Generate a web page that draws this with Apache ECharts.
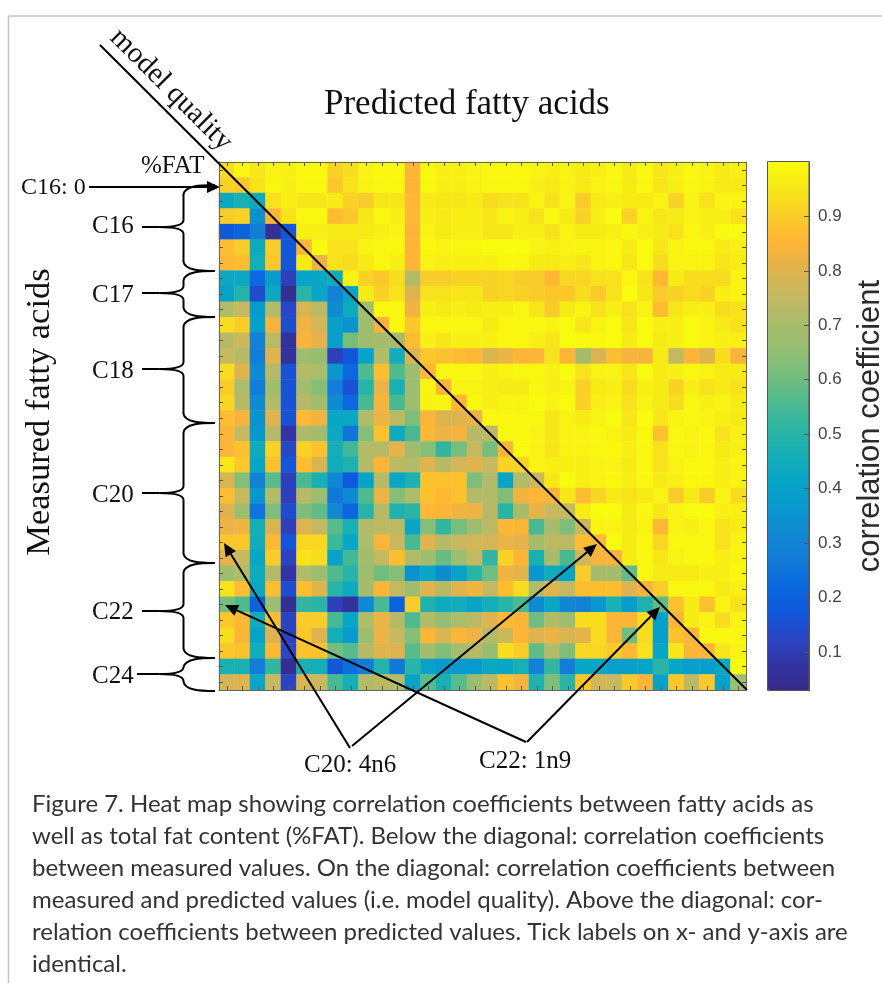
<!DOCTYPE html>
<html>
<head>
<meta charset="utf-8">
<style>html,body{margin:0;padding:0;background:#fff}#chart{width:882px;height:983px}</style>
<script src="https://cdn.jsdelivr.net/npm/echarts@6/dist/echarts.min.js"></script>
</head>
<body>
<div id="chart"></div>
<script>
// Correlation coefficients, row by row (top to bottom), 34 columns each
const r00=[.93,.99,.95,.98,.97,.99,.99,.91,.93,.98,.99,.99,.85,.99,.97,.97,.98,.99,.99,.99,.98,.97,.98,.96,.97,.99,.96,.99,.95,.97,.99,.98,.96,.97];
const r01=[.91,.89,.94,.99,.97,.99,.99,.89,.94,.98,.99,.99,.85,.99,.97,.97,.98,.99,.99,.99,.97,.96,.98,.96,.98,.99,.96,.99,.95,.97,.99,.98,.96,.96];
const r02=[.43,.47,.44,.94,.97,.95,.95,.96,.91,.90,.95,.95,.86,.96,.95,.95,.96,.93,.94,.94,.98,.94,.98,.90,.96,.97,.96,.96,.98,.91,.98,.94,.98,.98];
const r03=[.90,.91,.34,.85,.94,.99,.99,.87,.89,.95,.99,.97,.86,.97,.96,.97,.97,.95,.98,.97,.94,.99,.96,.91,.97,1,.91,.98,.95,.96,.98,.97,.97,.94];
const r04=[.18,.20,.28,.06,.17,.97,.97,.96,.96,.96,.97,.98,.85,.98,.96,.97,.97,.95,.95,.97,.97,.94,.98,.96,.96,.97,.99,.97,.96,.94,.99,.97,1,1];
const r05=[.87,.90,.44,.90,.17,.85,1,.94,.94,.98,.99,.99,.85,.99,.98,.99,.99,1,1,1,.98,.97,.98,.98,.98,.99,.96,1,.95,.98,.99,.99,.96,.97];
const r06=[.86,.87,.46,.89,.17,.96,.82,.94,.93,.96,.99,.97,.85,.98,.97,.97,.97,.97,.99,.99,.96,.96,.97,.95,.98,.99,.95,1,.93,.98,.98,.98,.95,.96];
const r07=[.43,.43,.22,.38,.11,.41,.42,.44,.98,.91,.89,.93,.73,.90,.90,.91,.91,.91,.92,.90,.90,.86,.92,.92,.94,.94,.99,.94,.86,.96,.93,.93,.93,.98];
const r08=[.40,.49,.14,.43,.05,.50,.42,.29,.41,.96,.91,.94,.80,.94,.94,.95,.95,.91,.92,.91,.90,.89,.89,.93,.90,.94,1,.95,.90,.91,.93,.91,.97,.98];
const r09=[.72,.76,.38,.72,.13,.79,.74,.33,.44,.69,.99,.99,.83,.97,.96,.97,.96,.97,.97,.99,.95,.90,.96,.98,.94,.97,.94,.98,.87,.95,.97,.97,.93,.94];
const r10=[.93,.90,.39,.84,.15,.83,.78,.39,.35,.68,.84,.99,.89,.99,.99,.99,.99,.96,.99,.99,.99,.98,1,.95,.98,1,.95,1,.97,.97,1,.98,.96,.94];
const r11=[.73,.77,.29,.74,.07,.84,.81,.39,.61,.68,.69,.70,.87,.97,.95,.97,.97,.97,.99,.99,.97,.95,1,.99,.99,1,.96,1,.96,.97,1,.98,.97,.97];
const r12=[.76,.73,.28,.80,.07,.68,.66,.11,.17,.41,.72,.45,.80,.89,.88,.87,.86,.79,.82,.85,.85,.94,.85,.70,.79,.87,.84,.84,.96,.75,.85,.80,.93,.84];
const r13=[.93,.80,.33,.73,.16,.73,.71,.36,.22,.56,.87,.56,.68,.86,.99,.99,.99,.97,.98,.99,.99,.97,1,.94,.98,.98,.95,1,.96,.97,.99,.98,.96,.96];
const r14=[.90,.71,.27,.69,.16,.69,.63,.28,.16,.50,.82,.47,.68,.98,.85,.98,.98,.97,.96,.96,.99,.97,.98,.91,.96,.97,.93,.97,.96,.91,.97,.94,.96,.94];
const r15=[.92,.73,.33,.72,.16,.73,.69,.33,.22,.55,.84,.55,.68,.98,.98,.85,.99,.97,.98,.98,1,.98,1,.91,.97,.98,.94,.98,.96,.93,.99,.97,.98,.96];
const r16=[.87,.84,.35,.80,.16,.86,.83,.42,.43,.72,.82,.74,.62,.85,.79,.80,.82,.99,.99,.99,.99,.95,.98,.96,.98,1,.95,1,.95,.98,.99,.98,.97,.96];
const r17=[.85,.76,.36,.73,.08,.71,.69,.43,.25,.63,.88,.44,.55,.86,.82,.84,.73,.74,.99,.99,.98,.95,.98,.98,.99,.98,.96,.99,.88,.99,.98,.99,.94,.97];
const r18=[.85,.88,.44,.91,.13,.91,.88,.46,.54,.72,.73,.81,.68,.63,.52,.61,.75,.61,.85,1,.98,.95,.98,.98,.99,.99,.97,.99,.94,.99,.98,.99,.96,.97];
const r19=[.95,.89,.42,.88,.17,.87,.79,.45,.48,.72,.85,.74,.72,.80,.73,.78,.80,.76,.91,.91,.98,.97,.97,.97,.98,.98,.96,.99,.94,.98,.99,.99,.97,.98];
const r20=[.79,.63,.30,.57,.11,.55,.47,.31,.18,.41,.73,.42,.48,.88,.88,.88,.62,.72,.41,.72,.77,.95,1,.97,.98,.99,.97,.99,.96,.97,.99,.99,.97,.98];
const r21=[.87,.76,.36,.72,.11,.73,.67,.26,.32,.56,.82,.63,.71,.88,.86,.88,.72,.72,.62,.83,.85,.85,.95,.87,.92,.96,.94,.96,.98,.90,.96,.90,.98,.93];
const r22=[.80,.68,.25,.62,.14,.62,.58,.32,.21,.50,.73,.48,.51,.86,.85,.83,.82,.73,.50,.70,.81,.76,.76,.96,1,1,.96,.99,.95,.98,1,1,.97,.97];
const r23=[.82,.83,.46,.79,.11,.80,.75,.57,.47,.72,.74,.74,.42,.63,.52,.61,.68,.74,.85,.85,.55,.70,.62,.77,.98,.98,.96,.98,.86,.98,.97,.99,.94,.96];
const r24=[.89,.89,.45,.86,.17,.92,.92,.53,.42,.71,.85,.76,.55,.80,.73,.76,.78,.78,.82,.81,.70,.74,.74,.87,.86,1,.96,.99,.92,.99,.99,.99,.94,.98];
const r25=[.81,.76,.42,.90,.12,.94,.93,.40,.54,.69,.75,.87,.72,.68,.59,.67,.75,.52,.91,.85,.47,.70,.55,.78,.84,.84,.96,.99,.95,.98,.99,.99,.97,.98];
const r26=[.68,.72,.44,.72,.08,.72,.68,.56,.50,.68,.60,.63,.35,.42,.33,.40,.50,.60,.83,.81,.36,.44,.41,.90,.70,.70,.58,.99,.96,.96,.96,.97,.97,.99];
const r27=[.94,.87,.43,.87,.15,.87,.80,.50,.44,.70,.85,.75,.68,.80,.73,.80,.83,.75,.87,.93,.72,.80,.75,.87,.87,.87,.80,.84,.90,.99,.99,.99,.96,.97];
const r28=[.61,.56,.20,.67,.05,.52,.50,.11,.07,.32,.55,.20,.90,.48,.44,.45,.41,.46,.50,.55,.32,.42,.31,.30,.36,.47,.38,.48,.58,.88,.96,.88,.98,.94];
const r29=[.89,.86,.45,.87,.12,.90,.90,.55,.42,.72,.82,.73,.56,.72,.66,.71,.74,.80,.86,.85,.60,.72,.68,.93,.93,.85,.85,.93,.39,.85,.96,.98,.93,.98];
const r30=[.93,.85,.41,.80,.12,.89,.80,.46,.38,.68,.82,.76,.63,.85,.79,.85,.82,.73,.77,.85,.80,.82,.79,.81,.93,.85,.60,.93,.39,.88,.85,.99,.99,.99];
const r31=[.89,.88,.45,.86,.13,.88,.88,.61,.57,.73,.80,.80,.57,.69,.62,.70,.73,.66,.93,.90,.58,.72,.62,.92,.92,.90,.86,.94,.42,.95,.85,.85,.95,.98];
const r32=[.47,.47,.27,.52,.05,.47,.46,.17,.24,.27,.49,.26,.50,.40,.37,.37,.37,.43,.42,.47,.29,.52,.27,.42,.42,.39,.39,.41,.50,.42,.39,.39,.42,1];
const r33=[.78,.80,.42,.76,.12,.79,.77,.55,.46,.72,.74,.72,.40,.57,.47,.57,.66,.74,.88,.84,.48,.62,.50,.89,.78,.76,.89,.85,.40,.89,.74,.89,.40,.68];
const rows=[r00,r01,r02,r03,r04,r05,r06,r07,r08,r09,r10,r11,r12,r13,r14,r15,r16,r17,r18,r19,r20,r21,r22,r23,r24,r25,r26,r27,r28,r29,r30,r31,r32,r33];

const categories=rows.map((_,i)=>String(i+1));
const colorbarTicks=[0.1,0.2,0.3,0.4,0.5,0.6,0.7,0.8,0.9];
const colorbarColors=['#352A87','#3333A0','#2A45C4','#0F58DA','#0A6ADE','#137CD8','#1188D2','#0899CE','#08A6C6','#16AFB4','#2FB6A2','#52BA8E','#78BE7C','#97BE70','#AABC6A','#C6B860','#E2B34C','#FFB535','#F9CE28','#F7E818','#F9FB0E'];
const captionLines=[
 'Figure 7. Heat map showing correlation coefficients between fatty acids as',
 'well as total fat content (%FAT). Below the diagonal: correlation coefficients',
 'between measured values. On the diagonal: correlation coefficients between',
 'measured and predicted values (i.e. model quality). Above the diagonal: cor-',
 'relation coefficients between predicted values. Tick labels on x- and y-axis are',
 'identical.'];

const cells=[];
rows.forEach((row,y)=>row.forEach((v,x)=>cells.push([x,y,v])));

const SERIF='"Liberation Serif","DejaVu Serif",serif';
const Z=100;
function label(text,x,y,size,align,rot){
  return {type:'text',x,y,z:Z,rotation:rot||0,style:{text,fontFamily:SERIF,fontSize:size,fill:'#111',align:align||'left',verticalAlign:'middle'}};
}
function line(x1,y1,x2,y2,w){
  return {type:'line',z:Z,shape:{x1,y1,x2,y2},style:{stroke:'#000',lineWidth:w||2}};
}
function curve(x1,y1,cpx1,cpy1,cpx2,cpy2,x2,y2){
  return {type:'bezierCurve',z:Z,shape:{x1,y1,cpx1,cpy1,cpx2,cpy2,x2,y2},style:{stroke:'#000',lineWidth:2,fill:'none'}};
}
function arrow(x1,y1,x2,y2){
  const d=Math.hypot(x2-x1,y2-y1),ux=(x2-x1)/d,uy=(y2-y1)/d,L=13,W=6;
  const bx=x2-ux*L,by=y2-uy*L;
  return [line(x1,y1,bx,by,2),
   {type:'polygon',z:Z,shape:{points:[[x2,y2],[bx-uy*W,by+ux*W],[bx+uy*W,by-ux*W]]},style:{fill:'#000'}}];
}
function brace(y0,ym,y1,xl){
  const x=183.5,r=215;
  return [
    curve(r,y0,r-16,y0,x+2,y0+1,x,y0+9),
    line(x,y0+9,x,ym-7,2),
    curve(x,ym-7,x,ym-2,x-8,ym,x-24,ym),
    line(x-24,ym,xl,ym,2),
    curve(x-24,ym,x-8,ym,x,ym+2,x,ym+7),
    line(x,ym+7,x,y1-9,2),
    curve(x,y1-9,x+2,y1-1,r-16,y1,r,y1)
  ];
}

const graphics=[
  {type:'line',z:Z,shape:{x1:8.5,y1:16,x2:882,y2:16},style:{stroke:'#c4c4cc',lineWidth:1.5}},
  {type:'line',z:Z,shape:{x1:8.5,y1:16,x2:8.5,y2:983},style:{stroke:'#c4c4cc',lineWidth:1.5}},
  line(100,45,747,690,2),
  label('Predicted fatty acids',324,105,35),
  label('model quality',171,90,29,'center',-Math.PI/4),
  label('%FAT',141,166,25),
  label('C16: 0',21,188,24),
  label('C16',92,226,25),label('C17',92,295,25),label('C18',92,371,25),
  label('C20',92,495,25),label('C22',92,612,25),label('C24',92,676,25),
  label('Measured fatty acids',40,412,34.5,'center',Math.PI/2),
  label('C20: 4n6',304,765,25),label('C22: 1n9',479,761,25),
  ...arrow(89,187,220,187),
  ...brace(185,227,271,142),...brace(271,293,317,142),...brace(317,369,423,142),
  ...brace(423,493,563,142),...brace(563,611,658,142),...brace(658,674,691,137),
  ...arrow(350,748,224,543),...arrow(352,746,597,544),
  ...arrow(526,742,225,605),...arrow(527,742,660,607),
  {type:'text',x:870,y:426,z:Z,rotation:Math.PI/2,style:{text:'correlation coefficient',fontFamily:'"Liberation Sans",sans-serif',fontSize:31,fill:'#2a2a2a',align:'center',verticalAlign:'middle'}},
  {type:'rect',z:Z,shape:{x:767.5,y:161.5,width:41.5,height:529},style:{fill:'none',stroke:'#555',lineWidth:1}},
  ...captionLines.map((t,i)=>({type:'text',x:32,y:804.5+i*32,z:Z,style:{text:t,fontFamily:'Lato,sans-serif',fontSize:24,fill:'#333',verticalAlign:'middle'}}))
];

function frameAxis(kind,position,gridIndex){
  return {type:'category',data:categories,gridIndex,position,inverse:kind==='y',z:5,
    axisLine:{show:true,onZero:false,lineStyle:{color:'#666',width:1}},
    axisTick:{show:true,inside:true,length:4,alignWithLabel:true,interval:0,lineStyle:{color:'#555'}},
    axisLabel:{show:false,interval:0},splitLine:{show:false},splitArea:{show:false}};
}

const chart=echarts.init(document.getElementById('chart'),null,{renderer:'canvas'});
chart.setOption({
  animation:false,
  backgroundColor:'#fff',
  tooltip:{show:false},
  grid:[
    {left:219,top:162,width:527,height:528},
    {left:768,top:162,width:41,height:529}
  ],
  xAxis:[frameAxis('x','bottom',0),frameAxis('x','top',0),
    {type:'value',gridIndex:1,min:0,max:1,show:false}],
  yAxis:[frameAxis('y','left',0),frameAxis('y','right',0),
    {type:'value',gridIndex:1,position:'right',min:0.028,max:1,z:20,
     axisLine:{show:true,onZero:false,lineStyle:{color:'#555'}},
     axisTick:{show:true,inside:true,length:5,customValues:colorbarTicks,lineStyle:{color:'#555'}},
     axisLabel:{show:true,margin:9,customValues:colorbarTicks,formatter:v=>v.toFixed(1),color:'#444',fontSize:17,fontFamily:'"Liberation Sans",sans-serif'},
     splitLine:{show:false}}],
  visualMap:{type:'continuous',seriesIndex:0,min:0.028,max:1,left:768,top:162,itemWidth:41,itemHeight:529,padding:0,z:1,
    calculable:false,realtime:false,hoverLink:false,showLabel:false,text:null,inRange:{color:colorbarColors}},
  series:[{type:'heatmap',xAxisIndex:0,yAxisIndex:0,data:cells,silent:true,itemStyle:{borderWidth:0},emphasis:{disabled:true},progressive:0}],
  graphic:{elements:graphics}
});
</script>
</body>
</html>
